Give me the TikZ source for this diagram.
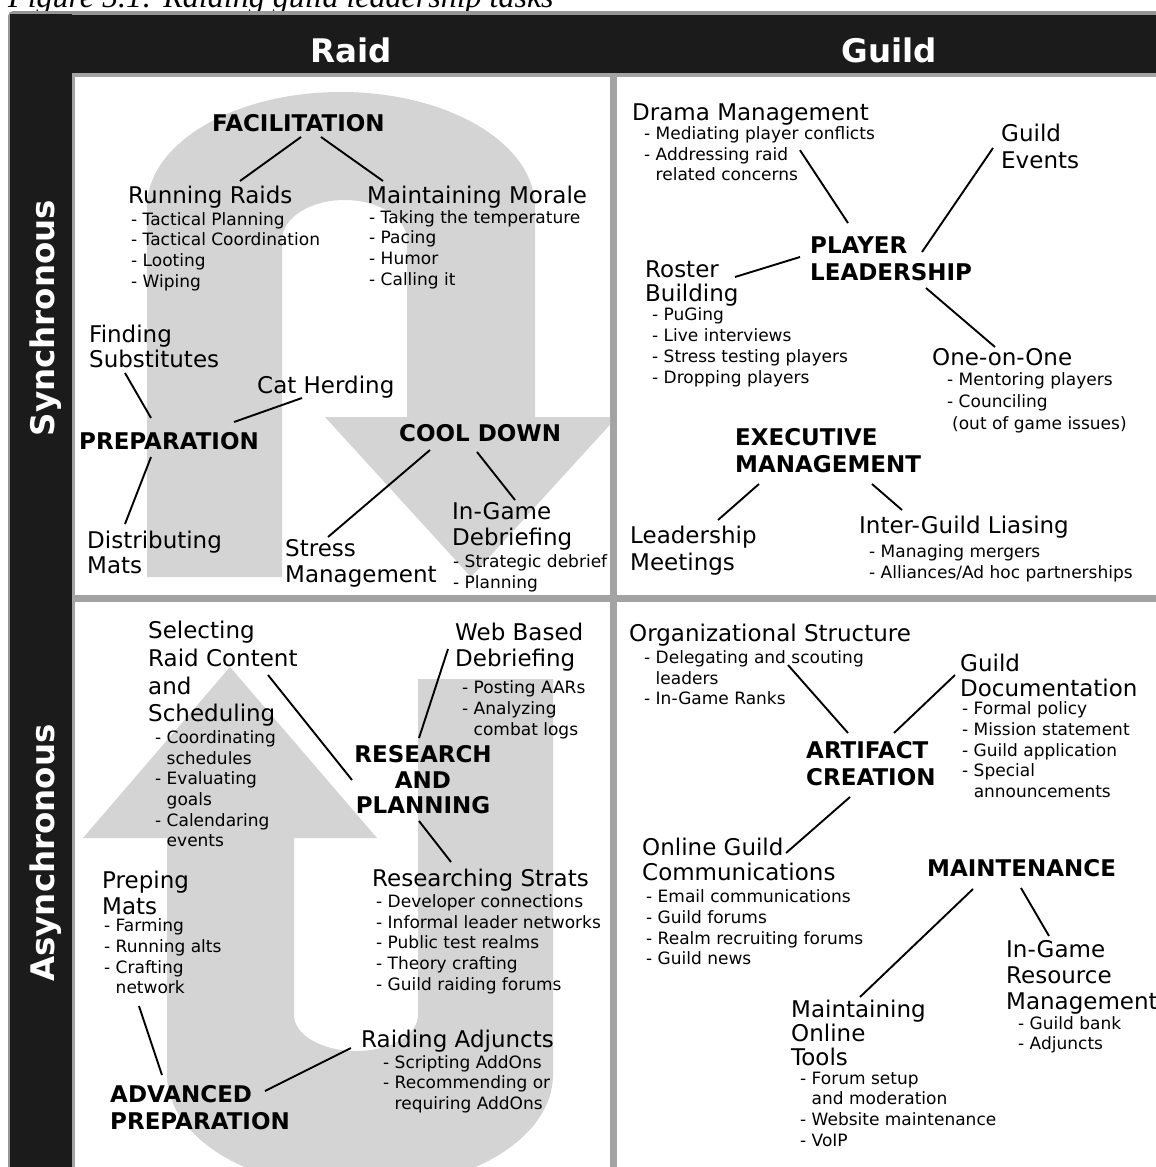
\documentclass[tikz,border=0pt]{standalone}
\usepackage{fontspec}
\setmainfont{DejaVu Sans}
\newfontfamily\capfont{Liberation Serif}
\usetikzlibrary{calc}
\usepackage{xcolor}

\definecolor{framegray}{RGB}{150,150,150}
\definecolor{barblack}{RGB}{27,27,27}
\definecolor{linegray}{RGB}{163,163,163}
\definecolor{flowgray}{RGB}{212,212,212}

\newcommand{\lab}{\fontsize{23}{25.5}\selectfont}
\newcommand{\itm}{\fontsize{17}{20.7}\selectfont}
\newcommand{\hdf}{\bfseries\fontsize{23}{26.5}\selectfont}
\newcommand{\sidef}{\bfseries\fontsize{32.5}{36}\selectfont}
\newcommand{\contd}{\hphantom{- }}

\begin{document}
\begin{tikzpicture}[x=1pt,y=-1pt,
    task/.style={anchor=north west,inner sep=0pt,align=left,font=\lab},
    detail/.style={anchor=north west,inner sep=0pt,align=left,font=\itm},
    role/.style={anchor=north west,inner sep=0pt,align=left,font=\hdf},
    link/.style={line width=1.9pt},
    colhead/.style={anchor=base,inner sep=0pt,text=white,font=\sidef},
    rowhead/.style={anchor=base,inner sep=0pt,text=white,font=\sidef,rotate=90}
  ]
  \useasboundingbox (0,0) rectangle (1156,1167);
  \node[anchor=base west,inner sep=0pt,font=\capfont\itshape\fontsize{32}{36}\selectfont] (caption) at (8,8) {Figure 5.1: Raiding guild leadership tasks};
  % frame
  \fill[framegray,rounded corners=5pt] (8,11) rectangle (1170,1180);
  \fill[barblack] (10,14) rectangle (72,1180);
  \fill[barblack] (18,15) rectangle (1170,73);
  \fill[linegray] (72,73) rectangle (1170,1180);
  \fill[white] (75,77) rectangle (610,595);
  \fill[white] (617,77) rectangle (1170,595);
  \fill[white] (75,602) rectangle (610,1180);
  \fill[white] (617,602) rectangle (1170,1180);
  \node[colhead] (raid) at (351,62) {Raid};
  \node[colhead] (guild) at (889,62) {Guild};
  \node[rowhead] (sync) at (54,318) {Synchronous};
  \node[rowhead] (async) at (54,853) {Asynchronous};
  % flow arrows
  \begin{scope}
    \clip (75,77) rectangle (610,595);
    \fill[flowgray] (147,577) -- (147,207) .. controls (147,143.5) and (233.9,92) .. (341,92)
      .. controls (448.1,92) and (535,143.5) .. (535,207) -- (535,417) -- (617,417) -- (471,577)
      -- (325,417) -- (407,417) -- (407,240) .. controls (407,217.9) and (379,200) .. (344.5,200)
      .. controls (310,200) and (282,217.9) .. (282,240) -- (282,577) -- cycle;
  \end{scope}
  \begin{scope}
    \clip (75,602) rectangle (610,1170);
    \fill[flowgray] (167,838) -- (83,838) -- (230,667) -- (377,838) -- (294,838) -- (294,1015)
      .. controls (294,1034.9) and (321.8,1051) .. (356,1051) .. controls (390.2,1051) and (418,1034.9) .. (418,1015)
      -- (418,679) -- (553,679) -- (553,1075) .. controls (553,1138.5) and (466.6,1190) .. (360,1190)
      .. controls (253.4,1190) and (167,1138.5) .. (167,1075) -- cycle;
  \end{scope}
  % raid, synchronous
  \node[role] (fac) at (212,114) {FACILITATION};
  \node[task] (rraids) at (128,186) {Running Raids};
  \node[detail] (rraidsi) at (131,212) {- Tactical Planning\\- Tactical Coordination\\- Looting\\- Wiping};
  \node[task] (mmorale) at (367,186) {Maintaining Morale};
  \node[detail] (mmoralei) at (369,210) {- Taking the temperature\\- Pacing\\- Humor\\- Calling it};
  \node[task] (findsub) at (89,324.5) {Finding\\Substitutes};
  \node[task] (catherd) at (257,375.5) {Cat Herding};
  \node[role] (prep) at (79,432) {PREPARATION};
  \node[task] (distmats) at (87,530.5) {Distributing\\Mats};
  \node[task] (stress) at (285,539.5) {Stress\\Management};
  \node[role] (cool) at (399,424) {COOL DOWN};
  \node[task] (ingame) at (452,502.5) {In-Game\\Debriefing};
  \node[detail] (ingamei) at (453,554.5) {- Strategic debrief\\- Planning};
  \draw[link] ($(fac.north west)+(89,23)$) -- ($(rraids.north west)+(112,-5)$);
  \draw[link] ($(fac.north west)+(109,23)$) -- ($(mmorale.north west)+(16,-5)$);
  \draw[link] ($(findsub.north west)+(36,48.5)$) -- ($(prep.north west)+(72,-14)$);
  \draw[link] ($(catherd.north west)+(45,22.5)$) -- ($(prep.north west)+(155,-10)$);
  \draw[link] ($(prep.north west)+(72,25)$) -- ($(distmats.north west)+(38,-6.5)$);
  \draw[link] ($(cool.north west)+(31,26)$) -- ($(stress.north west)+(43,-2.5)$);
  \draw[link] ($(cool.north west)+(78,28)$) -- ($(ingame.north west)+(63,-2.5)$);
  % guild, synchronous
  \node[task] (drama) at (632,103.3) {Drama Management};
  \node[detail] (dramai) at (644,126.2) {- Mediating player conflicts\\- Addressing raid\\\contd related concerns};
  \node[task,font=\fontsize{23}{26.5}\selectfont] (gevents) at (1001,124.3) {Guild\\Events};
  \node[role] (pl) at (810,236.7) {PLAYER\\LEADERSHIP};
  \node[task,font=\fontsize{23}{24.5}\selectfont] (roster) at (645,260.3) {Roster\\Building};
  \node[detail] (rosteri) at (652,307.8) {- PuGing\\- Live interviews\\- Stress testing players\\- Dropping players};
  \node[task] (one) at (932,348.6) {One-on-One};
  \node[detail,font=\fontsize{17}{21.6}\selectfont] (onei) at (947,372.8) {- Mentoring players\\- Counciling\\\hspace*{5pt}(out of game issues)};
  \node[role] (exec) at (735,428.3) {EXECUTIVE\\MANAGEMENT};
  \node[task,font=\fontsize{23}{26.5}\selectfont] (leadm) at (630,526) {Leadership\\Meetings};
  \node[task] (inter) at (859,516) {Inter-Guild Liasing};
  \node[detail] (interi) at (869,544.5) {- Managing mergers\\- Alliances/Ad hoc partnerships};
  \draw[link] ($(dramai.north west)+(156,24)$) -- ($(pl.north west)+(38,-13.7)$);
  \draw[link] ($(gevents.north west)+(-8,23.7)$) -- ($(pl.north west)+(112,15.3)$);
  \draw[link] ($(roster.north west)+(90,16.7)$) -- ($(pl.north west)+(-10,20.3)$);
  \draw[link] ($(pl.north west)+(116,51.3)$) -- ($(one.north west)+(63,-1.6)$);
  \draw[link] ($(exec.north west)+(24,55.7)$) -- ($(leadm.north west)+(88,-6)$);
  \draw[link] ($(exec.north west)+(137,55.7)$) -- ($(inter.north west)+(43,-6)$);
  % raid, asynchronous
  \node[task,font=\fontsize{23}{27.7}\selectfont] (select) at (148,621) {Selecting\\Raid Content\\and\\Scheduling};
  \node[detail] (selecti) at (155,730.2) {- Coordinating\\\contd schedules\\- Evaluating\\\contd goals\\- Calendaring\\\contd events};
  \node[task,font=\fontsize{23}{26}\selectfont] (web) at (455,623.3) {Web Based\\Debriefing};
  \node[detail] (webi) at (462,680.5) {- Posting AARs\\- Analyzing\\\contd combat logs};
  \node[role,anchor=north,align=center,font=\bfseries\fontsize{23}{25.5}\selectfont] (rp) at (423,745.7) {RESEARCH\\AND\\PLANNING};
  \node[task] (rstrats) at (372,868.6) {Researching Strats};
  \node[detail] (rstratsi) at (376,894.2) {- Developer connections\\- Informal leader networks\\- Public test realms\\- Theory crafting\\- Guild raiding forums};
  \node[task,font=\fontsize{23}{25.8}\selectfont] (preping) at (102,870.8) {Preping\\Mats};
  \node[detail] (prepingi) at (104,918.5) {- Farming\\- Running alts\\- Crafting\\\contd network};
  \node[role,font=\bfseries\fontsize{23}{27.6}\selectfont] (adv) at (110,1085) {ADVANCED\\PREPARATION};
  \node[task] (adjuncts) at (361,1030.2) {Raiding Adjuncts};
  \node[detail] (adjunctsi) at (383,1055) {- Scripting AddOns\\- Recommending or\\\contd requiring AddOns};
  \draw[link] ($(select.north west)+(120,54)$) -- ($(rp.north)+(-71,34.3)$);
  \draw[link] ($(web.north west)+(-7,25.7)$) -- ($(rp.north)+(-4,-7.7)$);
  \draw[link] ($(rp.north)+(-4,75.3)$) -- ($(rstrats.north west)+(79,-6.6)$);
  \draw[link] ($(prepingi.north west)+(35,87.5)$) -- ($(adv.north west)+(52,-10)$);
  \draw[link] ($(adv.north west)+(155,6)$) -- ($(adjuncts.north west)+(-10,17.8)$);
  % guild, asynchronous
  \node[task] (org) at (629,623.5) {Organizational Structure};
  \node[detail] (orgi) at (644,650.2) {- Delegating and scouting\\\contd leaders\\- In-Game Ranks};
  \node[task,font=\fontsize{23}{25}\selectfont] (gdoc) at (960,653.7) {Guild\\Documentation};
  \node[detail] (gdoci) at (962,701.7) {- Formal policy\\- Mission statement\\- Guild application\\- Special\\\contd announcements};
  \node[role,font=\bfseries\fontsize{23}{27}\selectfont] (ac) at (806,741.6) {ARTIFACT\\CREATION};
  \node[task,font=\fontsize{23}{24.7}\selectfont] (ogc) at (642,837.7) {Online Guild\\Communications};
  \node[detail] (ogci) at (646,889.5) {- Email communications\\- Guild forums\\- Realm recruiting forums\\- Guild news};
  \node[role] (maint) at (927,859.7) {MAINTENANCE};
  \node[task,font=\fontsize{23}{25.8}\selectfont] (igrm) at (1006,940.7) {In-Game\\Resource\\Management};
  \node[detail,font=\fontsize{17}{20}\selectfont] (igrmi) at (1018,1016.4) {- Guild bank\\- Adjuncts};
  \node[task,font=\fontsize{23}{24}\selectfont] (mot) at (791,999.6) {Maintaining\\Online\\Tools};
  \node[detail] (moti) at (800,1071.5) {- Forum setup\\\contd and moderation\\- Website maintenance\\- VoIP};
  \draw[link] ($(orgi.north west)+(144,14.8)$) -- ($(ac.north west)+(42,-8.6)$);
  \draw[link] ($(gdoc.north west)+(-5,21.3)$) -- ($(ac.north west)+(88,-8.6)$);
  \draw[link] ($(ac.north west)+(44,55.4)$) -- ($(ogc.north west)+(144,15.3)$);
  \draw[link] ($(maint.north west)+(46,29.3)$) -- ($(mot.north west)+(69,-2.6)$);
  \draw[link] ($(maint.north west)+(94,28.3)$) -- ($(igrm.north west)+(43,-4.7)$);
\end{tikzpicture}
\end{document}
